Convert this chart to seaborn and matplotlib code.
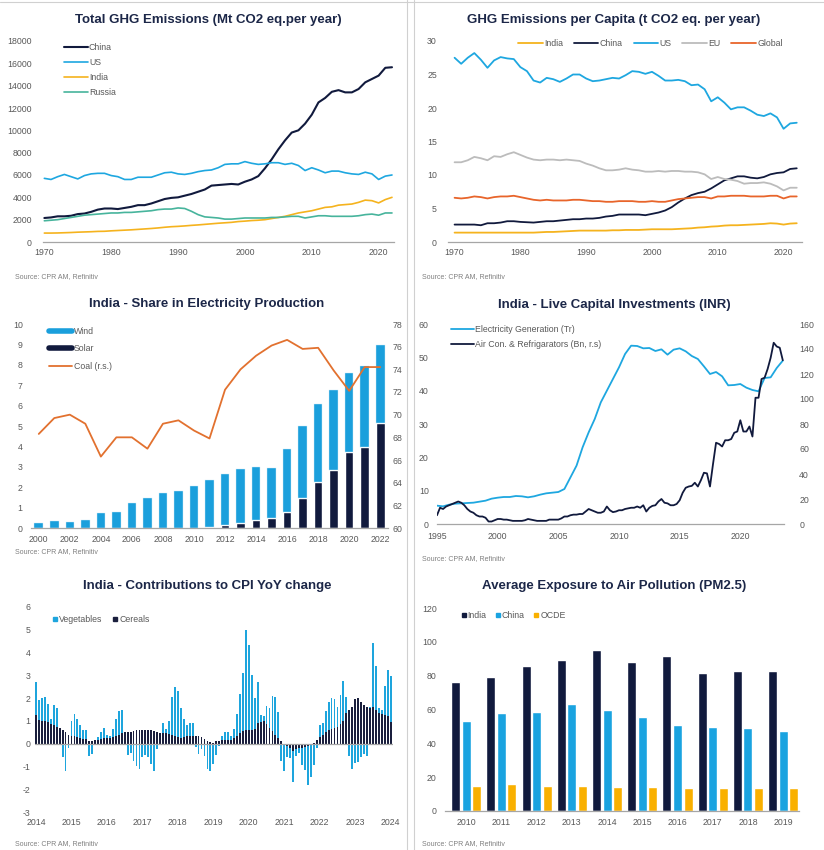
import numpy as np
import pandas as pd
import seaborn as sns
import matplotlib.pyplot as plt
from matplotlib.lines import Line2D

W, H = 824, 850

sns.set_theme(style="white")
plt.rcParams["font.family"] = ["Liberation Sans", "DejaVu Sans"]
plt.rcParams["axes.unicode_minus"] = False

NAVY = "#111a3d"
CYAN = "#1ea7e0"
YELLOW = "#f5b31e"
TEAL = "#47b49c"
GREY = "#bcbcbc"
ORANGE = "#e8652b"
COAL = "#e2712f"
TICK = "#595959"
TITLE = "#1c2748"
SPINE = "#a6a6a6"

# --- Total GHG emissions (Mt CO2 eq.) ---
ghg_years = list(range(1970, 2023))
china_total = [2150, 2200, 2300, 2300, 2350, 2500, 2550, 2700, 2900, 3000,
               3000, 2950, 3050, 3150, 3300, 3300, 3450, 3650, 3850, 3950,
               4000, 4150, 4300, 4500, 4700, 5050, 5100, 5150, 5200, 5150,
               5400, 5600, 5900, 6600, 7400, 8300, 9100, 9800, 10000, 10600,
               11400, 12500, 12900, 13450, 13600, 13400, 13400, 13700, 14300, 14600,
               14900, 15600, 15650]
us_total = [5700, 5600, 5850, 6050, 5850, 5650, 5950, 6100, 6150, 6150,
            5950, 5850, 5600, 5600, 5800, 5800, 5800, 6000, 6200, 6250,
            6100, 6050, 6150, 6300, 6400, 6450, 6650, 6950, 7000, 7000,
            7200, 7050, 6950, 7000, 7100, 7100, 6950, 7050, 6850, 6400,
            6650, 6450, 6200, 6350, 6350, 6200, 6100, 6050, 6250, 6100,
            5600, 5900, 6000]
india_total = [800, 800, 810, 830, 850, 880, 900, 920, 950, 960,
               1000, 1030, 1060, 1090, 1130, 1170, 1210, 1260, 1320, 1370,
               1400, 1440, 1490, 1530, 1580, 1630, 1680, 1720, 1760, 1830,
               1870, 1920, 1950, 2000, 2100, 2200, 2300, 2450, 2600, 2700,
               2800, 2950, 3100, 3150, 3300, 3350, 3400, 3550, 3750, 3700,
               3500, 3800, 4000]
russia_total = [1900, 1950, 2000, 2100, 2200, 2300, 2400, 2450, 2500, 2550,
                2600, 2600, 2650, 2650, 2700, 2750, 2800, 2900, 2950, 2950,
                3050, 3000, 2750, 2450, 2250, 2200, 2150, 2050, 2050, 2100,
                2150, 2150, 2150, 2150, 2200, 2200, 2250, 2300, 2300, 2150,
                2250, 2350, 2350, 2300, 2300, 2300, 2300, 2350, 2450, 2500,
                2400, 2600, 2600]

# --- GHG per capita (t CO2 eq.) ---
india_pc = [1.4, 1.4, 1.4, 1.4, 1.4, 1.4, 1.4, 1.4, 1.4, 1.4,
            1.4, 1.4, 1.4, 1.45, 1.5, 1.5, 1.55, 1.6, 1.65, 1.7,
            1.7, 1.7, 1.7, 1.7, 1.75, 1.75, 1.8, 1.8, 1.8, 1.85,
            1.9, 1.9, 1.9, 1.9, 1.95, 2.0, 2.05, 2.15, 2.2, 2.3,
            2.35, 2.45, 2.5, 2.5, 2.55, 2.6, 2.65, 2.7, 2.8, 2.75,
            2.6, 2.75, 2.8]
china_pc = [2.6, 2.6, 2.6, 2.6, 2.5, 2.8, 2.8, 2.9, 3.1, 3.1,
            3.0, 2.95, 2.9, 3.0, 3.1, 3.1, 3.2, 3.3, 3.4, 3.4,
            3.5, 3.5, 3.6, 3.8, 3.9, 4.1, 4.1, 4.1, 4.1, 4.0,
            4.2, 4.4, 4.7, 5.2, 5.9, 6.5, 7.0, 7.3, 7.5, 8.0,
            8.6, 9.2, 9.5, 9.8, 9.8, 9.6, 9.5, 9.7, 10.1, 10.3,
            10.4, 10.9, 11.0]
us_pc = [27.5, 26.6, 27.5, 28.2, 27.2, 26.0, 27.1, 27.6, 27.4, 27.3,
         26.1, 25.5, 24.1, 23.8, 24.5, 24.3, 23.9, 24.4, 25.0, 25.0,
         24.4, 24.0, 24.1, 24.3, 24.5, 24.4, 24.9, 25.5, 25.4, 25.1,
         25.4, 24.8, 24.1, 24.1, 24.2, 24.0, 23.4, 23.5, 22.8, 21.0,
         21.6, 20.8, 19.8, 20.1, 20.1, 19.6, 19.0, 18.8, 19.2, 18.6,
         16.9, 17.7, 17.8]
eu_pc = [11.9, 11.9, 12.2, 12.7, 12.5, 12.2, 12.8, 12.7, 13.1, 13.4,
         13.0, 12.6, 12.3, 12.2, 12.3, 12.3, 12.2, 12.3, 12.2, 12.1,
         11.7, 11.4, 11.0, 10.7, 10.7, 10.8, 11.0, 10.8, 10.7, 10.5,
         10.5, 10.6, 10.5, 10.6, 10.6, 10.5, 10.5, 10.4, 10.1, 9.4,
         9.7, 9.4, 9.3, 9.1, 8.7, 8.8, 8.8, 8.9, 8.7, 8.3,
         7.7, 8.1, 8.1]
global_pc = [6.6, 6.5, 6.6, 6.8, 6.7, 6.5, 6.7, 6.8, 6.8, 6.9,
             6.7, 6.5, 6.3, 6.2, 6.3, 6.2, 6.2, 6.2, 6.3, 6.3,
             6.2, 6.1, 6.1, 6.0, 6.0, 6.1, 6.1, 6.1, 6.0, 6.0,
             6.1, 6.0, 6.0, 6.2, 6.4, 6.5, 6.6, 6.7, 6.7, 6.5,
             6.8, 6.8, 6.9, 6.9, 6.9, 6.8, 6.8, 6.8, 6.9, 6.9,
             6.5, 6.8, 6.8]

# --- India electricity production shares (%) ---
elec_share_years = list(range(2000, 2023))
solar_share = [0, 0, 0, 0, 0, 0, 0, 0, 0, 0, 0, 0.05, 0.15, 0.25, 0.37, 0.47,
               0.8, 1.45, 2.27, 2.82, 3.72, 3.97, 5.15]
wind_share = [0.25, 0.32, 0.30, 0.37, 0.72, 0.80, 1.22, 1.47, 1.72, 1.82, 2.05,
              2.32, 2.50, 2.63, 2.61, 2.46, 3.08, 3.55, 3.81, 3.93, 3.88, 3.96, 3.80]
coal_share = [68.3, 69.7, 70.0, 69.2, 66.3, 68.0, 68.0, 67.0, 69.2, 69.5, 68.6,
              67.9, 72.2, 74.0, 75.2, 76.1, 76.6, 75.8, 75.9, 73.9, 72.1, 74.2, 74.2]

# --- India live capital investments ---
elec_dates = np.arange(1995, 2024, 0.5)
elec_gen = [5.5, 5.3, 5.8, 6.1, 6.2, 6.3, 6.4, 6.7, 7.0, 7.6,
            7.9, 8.1, 8.1, 8.4, 8.3, 8.0, 8.3, 8.8, 9.2, 9.4,
            9.6, 10.5, 14.0, 17.5, 23.0, 27.5, 31.5, 36.5, 40.0, 43.5,
            47.0, 51.0, 53.5, 53.4, 52.7, 52.8, 51.9, 52.4, 50.8, 52.3,
            52.7, 51.8, 50.4, 49.5, 47.3, 45.0, 45.6, 44.3, 41.6, 41.7,
            42.0, 40.9, 40.2, 39.8, 43.8, 44.0, 46.8, 49.0]
ac_dates = np.arange(1995, 2023.75, 0.25)
ac_fridge = [7, 13, 12, 14, 15, 16, 17, 18, 17, 15, 12, 10, 9, 7, 6, 6,
             5, 2, 2, 3, 4, 4, 3.5, 3.5, 3, 2.5, 2.5, 2.5, 2.5, 3, 4, 3.5,
             3, 2.5, 2.5, 2.5, 2.5, 3.5, 3.5, 3.5, 3.5, 4.5, 6, 6, 7, 7.5, 7.5, 8,
             8, 10, 12, 11, 10, 9, 9, 10, 14, 11, 9.5, 10, 11, 11, 12, 12.5,
             13, 13, 14, 13, 15, 10, 13, 14.5, 15, 18, 20, 17, 16.5, 15, 15, 16,
             19, 25, 29, 30, 30.5, 33, 30, 35, 41, 40.5, 30, 48, 65, 64, 62, 67,
             67, 68, 73, 74, 83, 74, 74, 78, 70, 101, 101, 116, 117, 124, 133, 145,
             142, 141, 131]

# --- India CPI contributions (monthly, Jan 2014 - Jan 2024) ---
cereals = [1.25, 1.05, 1.0, 1.0, 0.95, 0.85, 0.8, 0.75, 0.68, 0.62, 0.5, 0.38,
           0.35, 0.33, 0.3, 0.25, 0.22, 0.2, 0.12, 0.12, 0.15, 0.18, 0.22, 0.25,
           0.25, 0.27, 0.3, 0.32, 0.4, 0.45, 0.5, 0.5, 0.52, 0.55, 0.6, 0.6,
           0.6, 0.62, 0.62, 0.6, 0.55, 0.5, 0.45, 0.45, 0.45, 0.42, 0.38, 0.32,
           0.28, 0.25, 0.3, 0.32, 0.32, 0.35, 0.35, 0.33, 0.3, 0.2, 0.12, 0.08,
           0.05, 0.1, 0.12, 0.15, 0.15, 0.15, 0.18, 0.25, 0.35, 0.45, 0.55, 0.62,
           0.62, 0.62, 0.65, 0.9, 0.95, 1.0, 0.85, 0.7, 0.55, 0.4, 0.25, 0.1,
           -0.05, -0.1, -0.2, -0.3, -0.25, -0.2, -0.2, -0.15, -0.1, -0.05, 0.05, 0.15,
           0.3, 0.4, 0.5, 0.6, 0.65, 0.7, 0.75, 0.85, 1.0, 1.35, 1.5, 1.6,
           1.95, 2.0, 1.85, 1.7, 1.6, 1.55, 1.6, 1.5, 1.35, 1.3, 1.25, 1.2,
           0.95]
vegetables = [1.45, 0.85, 1.0, 1.05, 0.8, 0.25, 0.9, 0.8, 0.0, -0.6, -1.2, -0.2,
              0.65, 0.97, 0.8, 0.55, 0.38, 0.42, -0.55, -0.45, 0.0, 0.12, 0.28, 0.45,
              0.15, 0.08, 0.35, 0.78, 1.05, 1.05, 0.0, -0.5, -0.4, -0.75, -1.0, -1.1,
              -0.6, -0.5, -0.6, -0.9, -1.2, -0.25, 0.0, 0.45, 0.2, 0.58, 1.67, 2.18,
              2.02, 1.3, 0.8, 0.48, 0.58, 0.55, -0.15, -0.45, -0.25, -0.55, -1.1, -1.2,
              -0.9, -0.5, -0.1, 0.2, 0.35, 0.35, 0.17, 0.4, 0.95, 1.75, 2.55, 4.38,
              3.73, 2.38, 1.35, 1.8, 0.3, 0.2, 0.8, 0.85, 1.55, 1.65, 1.15, -0.75,
              -1.15, -0.5, -0.45, -1.4, -0.3, -0.2, -0.75, -1.0, -1.7, -1.4, -0.95, -0.2,
              0.5, 0.5, 0.95, 1.25, 1.35, 1.25, 0.85, 1.3, 1.75, 0.7, -0.55, -1.1,
              -0.85, -0.8, -0.6, -0.45, -0.55, 0.05, 2.8, 1.9, 0.2, 0.2, 1.3, 2.05,
              2.0]

# --- Average exposure to PM2.5 ---
air_years = ["2010", "2011", "2012", "2013", "2014", "2015", "2016", "2017", "2018", "2019"]
air_india = [76, 79.5, 85.5, 89, 95, 88, 91.5, 81.5, 82.5, 82.5]
air_china = [53, 58, 58.5, 63, 60, 55.5, 51, 49.5, 49, 47]
air_ocde = [15, 15.7, 14.7, 14.7, 14, 14, 13.5, 13.5, 13.5, 13.5]

TICK_FS = 6.3
LEG_FS = 6.3


def px_axes(fig, left, top, right, bottom):
    return fig.add_axes([left / W, 1 - bottom / H, (right - left) / W, (bottom - top) / H])


def style_axes(ax, xpad=4.5, ypad=6):
    for s in ["top", "right", "left"]:
        ax.spines[s].set_visible(False)
    ax.spines["bottom"].set_color(SPINE)
    ax.spines["bottom"].set_linewidth(0.9)
    ax.tick_params(axis="both", labelsize=TICK_FS, colors=TICK, length=0)
    ax.tick_params(axis="x", pad=xpad)
    ax.tick_params(axis="y", pad=ypad)
    ax.set_xlabel("")
    ax.set_ylabel("")


def style_right(ax, pad=3):
    for s in ["top", "right", "left", "bottom"]:
        ax.spines[s].set_visible(False)
    ax.tick_params(axis="y", labelsize=TICK_FS, colors=TICK, length=0, pad=pad)
    ax.set_ylabel("")


def fig_legend(ax, handles, labels, x, y, **kw):
    opts = dict(loc="upper left", bbox_to_anchor=(x / W, 1 - y / H),
                bbox_transform=ax.figure.transFigure, frameon=False, fontsize=LEG_FS,
                labelcolor=TICK, borderpad=0, borderaxespad=0)
    opts.update(kw)
    return ax.legend(handles, labels, **opts)


def title(fig, x, y, text):
    fig.text(x / W, 1 - y / H, text, ha="center", va="center", fontsize=9.5,
             fontweight="bold", color=TITLE)


def source(fig, x, y):
    fig.text(x / W, 1 - y / H, "Source: CPR AM, Refinitiv", ha="left", va="center",
             fontsize=5, color="#7f7f7f")


fig = plt.figure(figsize=(W / 100, H / 100), dpi=100)

# ---------- Panel 1: total GHG ----------
ax1 = px_axes(fig, 43, 41, 394, 242)
series1 = [("China", china_total, NAVY, 1.5), ("US", us_total, CYAN, 1.2),
           ("India", india_total, YELLOW, 1.2), ("Russia", russia_total, TEAL, 1.2)]
for name, vals, col, lw in series1:
    sns.lineplot(x=ghg_years, y=vals, color=col, linewidth=lw, ax=ax1)
ax1.set_xlim(1969.8, 2022.3)
ax1.set_ylim(0, 18000)
ax1.set_yticks(range(0, 18001, 2000))
ax1.set_xticks(range(1970, 2021, 10))
style_axes(ax1, ypad=8)
fig_legend(ax1, [Line2D([], [], color=c, lw=lw) for _, _, c, lw in series1],
           [s[0] for s in series1], 64, 43, handlelength=2.7, handletextpad=0.15,
           labelspacing=0.7)
title(fig, 208, 20.5, "Total GHG Emissions (Mt CO2 eq.per year)")
source(fig, 15, 277)

# ---------- Panel 2: per capita ----------
ax2 = px_axes(fig, 448, 41, 802, 242)
series2 = [("India", india_pc, YELLOW), ("China", china_pc, NAVY), ("US", us_pc, CYAN),
           ("EU", eu_pc, GREY), ("Global", global_pc, ORANGE)]
for name, vals, col in series2:
    sns.lineplot(x=ghg_years, y=vals, color=col, linewidth=1.3, ax=ax2)
ax2.set_xlim(1969, 2022.8)
ax2.set_ylim(0, 30)
ax2.set_yticks(range(0, 31, 5))
ax2.set_xticks(range(1970, 2021, 10))
style_axes(ax2, ypad=8)
fig_legend(ax2, [Line2D([], [], color=c, lw=1.3) for _, _, c in series2],
           [s[0] for s in series2], 518, 39, ncol=5, handlelength=2.8,
           handletextpad=0.2, columnspacing=1.2)
title(fig, 614, 20.5, "GHG Emissions per Capita (t CO2 eq. per year)")
source(fig, 422, 277)

# ---------- Panel 3: electricity shares ----------
ax3 = px_axes(fig, 31, 324, 388, 528)
pos3 = np.arange(len(elec_share_years))
ax3.bar(pos3, solar_share, width=0.55, color=NAVY, zorder=2)
ax3.bar(pos3, wind_share, bottom=solar_share, width=0.55, color="#1a9fdc",
        edgecolor="#cdeaf7", linewidth=0.3, zorder=2)
ax3.set_xlim(-0.5, 22.5)
ax3.set_ylim(0, 10)
ax3.set_yticks(range(0, 11))
ax3.set_xticks(pos3[::2])
ax3.set_xticklabels([str(y) for y in elec_share_years[::2]])
style_axes(ax3, xpad=5, ypad=6)
ax3r = ax3.twinx()
sns.lineplot(x=pos3, y=coal_share, color=COAL, linewidth=1.3, ax=ax3r)
ax3r.set_ylim(60, 78)
ax3r.set_yticks(range(60, 79, 2))
style_right(ax3r, pad=3)
fig_legend(ax3r, [Line2D([], [], color="#1a9fdc", lw=4), Line2D([], [], color=NAVY, lw=4),
                  Line2D([], [], color=COAL, lw=1.3)],
           ["Wind", "Solar", "Coal (r.s.)"], 49, 327, handlelength=2.6,
           handletextpad=0.2, labelspacing=0.95)
title(fig, 207, 303.5, "India - Share in Electricity Production")
source(fig, 15, 552)

# ---------- Panel 4: capital investments ----------
ax4 = px_axes(fig, 437, 324, 784, 524)
sns.lineplot(x=elec_dates, y=elec_gen, color=CYAN, linewidth=1.3, ax=ax4)
ax4.set_xlim(1995, 2023.6)
ax4.set_ylim(0, 60)
ax4.set_yticks(range(0, 61, 10))
ax4.set_xticks(range(1995, 2021, 5))
style_axes(ax4, xpad=6, ypad=6)
ax4r = ax4.twinx()
sns.lineplot(x=ac_dates, y=ac_fridge, color=NAVY, linewidth=1.3, ax=ax4r)
ax4r.set_ylim(0, 160)
ax4r.set_yticks(range(0, 161, 20))
style_right(ax4r, pad=11)
fig_legend(ax4r, [Line2D([], [], color=CYAN, lw=1.3), Line2D([], [], color=NAVY, lw=1.3)],
           ["Electricity Generation (Tr)", "Air Con. & Refrigarators (Bn, r.s)"],
           451, 325, handlelength=2.6, handletextpad=0.15, labelspacing=0.7)
title(fig, 614, 305, "India - Live Capital Investments (INR)")
source(fig, 422, 559)

# ---------- Panel 5: CPI contributions ----------
ax5 = px_axes(fig, 34.6, 607, 392.8, 812)
months = 2014 + np.arange(len(cereals)) / 12
cer = np.array(cereals)
veg = np.array(vegetables)
veg_bottom = np.where(veg >= 0, np.maximum(cer, 0), np.minimum(cer, 0))
ax5.bar(months, veg, bottom=veg_bottom, width=0.62 / 12, color="#1ea5dd",
        linewidth=0, antialiased=False, zorder=2)
ax5.bar(months, cer, width=0.62 / 12, color="#1a1f3d", linewidth=0,
        antialiased=False, zorder=2)
ax5.axhline(0, color=SPINE, linewidth=0.9, zorder=3)
ax5.set_xlim(2013.96, 2024.06)
ax5.set_ylim(-3, 6)
ax5.set_yticks(range(-3, 7))
ax5.set_xticks(range(2014, 2025))
style_axes(ax5, xpad=4, ypad=3)
ax5.spines["bottom"].set_visible(False)
fig_legend(ax5, [Line2D([], [], color="#1ea5dd", marker="s", ls="", ms=2.8),
                 Line2D([], [], color="#1a1f3d", marker="s", ls="", ms=2.8)],
           ["Vegetables", "Cereals"], 52, 615, ncol=2, handlelength=0.6,
           handletextpad=0.15, columnspacing=1.2)
title(fig, 207, 586, "India - Contributions to CPI YoY change")
source(fig, 15, 844)

# ---------- Panel 6: PM2.5 exposure ----------
ax6 = px_axes(fig, 445, 608, 799, 811)
df_air = pd.DataFrame({"year": air_years * 3,
                       "value": air_india + air_china + air_ocde,
                       "region": ["India"] * 10 + ["China"] * 10 + ["OCDE"] * 10})
air_pal = {"India": NAVY, "China": "#1aa3e0", "OCDE": "#f9b000"}
sns.barplot(data=df_air, x="year", y="value", hue="region", palette=air_pal,
            width=0.9, gap=0.15, saturation=1, ax=ax6, legend=False)
ax6.set_xlim(-0.6, 9.45)
ax6.set_ylim(0, 120)
ax6.set_yticks(range(0, 121, 20))
style_axes(ax6, xpad=5, ypad=6)
fig_legend(ax6, [Line2D([], [], color=air_pal[k], marker="s", ls="", ms=2.8) for k in air_pal],
           list(air_pal), 461, 611, ncol=3, handlelength=0.6, handletextpad=0.15,
           columnspacing=1.0)
title(fig, 614, 586.5, "Average Exposure to Air Pollution (PM2.5)")
source(fig, 422, 844)

# panel separators
for xp in (406.5, 413.5):
    fig.add_artist(Line2D([xp / W, xp / W], [0, 1], color="#d0d0d0", lw=0.8))
fig.add_artist(Line2D([0, 1], [1 - 1.5 / H, 1 - 1.5 / H], color="#d0d0d0", lw=0.8))

fig.savefig("out.png", dpi=100)
